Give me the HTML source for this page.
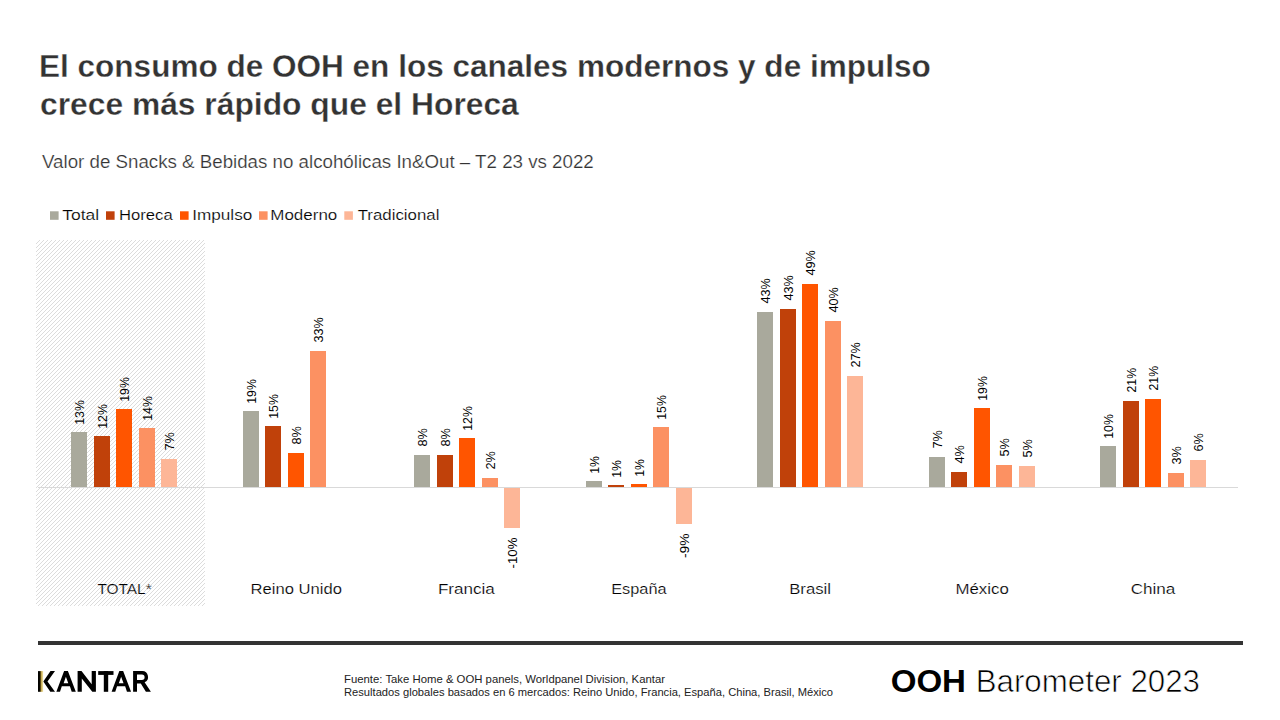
<!DOCTYPE html>
<html><head><meta charset="utf-8"><title>OOH Barometer 2023</title>
<style>
html,body{margin:0;padding:0;background:#fff;}
body{width:1280px;height:720px;overflow:hidden;position:relative;font-family:"Liberation Sans", sans-serif;}
svg{position:absolute;left:0;top:0;}
svg text{font-family:"Liberation Sans", sans-serif;}
</style></head><body>
<svg width="1280" height="720" viewBox="0 0 1280 720">
<defs>
<pattern id="hatch" x="0" y="0" width="4" height="4" patternUnits="userSpaceOnUse">
<rect x="3" y="0" width="1" height="1" fill="#dcdcdc"/>
<rect x="2" y="1" width="1" height="1" fill="#dcdcdc"/>
<rect x="1" y="2" width="1" height="1" fill="#dcdcdc"/>
<rect x="0" y="3" width="1" height="1" fill="#dcdcdc"/>
</pattern>
<linearGradient id="kgold" x1="0" y1="0" x2="1" y2="0">
<stop offset="0" stop-color="#000"/>
<stop offset="0.42" stop-color="#0a0800"/>
<stop offset="0.52" stop-color="#7a6420"/>
<stop offset="0.7" stop-color="#cdb45e"/>
<stop offset="1" stop-color="#efe0a2"/>
</linearGradient>
</defs>

<rect x="36" y="240" width="169" height="366" fill="url(#hatch)" shape-rendering="crispEdges"/>
<rect x="38" y="487" width="1200" height="1" fill="#d9d9d9" shape-rendering="crispEdges"/>
<rect x="71" y="432" width="16" height="55" fill="#a9a99c" shape-rendering="crispEdges"/>
<rect x="94" y="436" width="16" height="51" fill="#c0410a" shape-rendering="crispEdges"/>
<rect x="116" y="409" width="16" height="78" fill="#ff5500" shape-rendering="crispEdges"/>
<rect x="139" y="428" width="16" height="59" fill="#fc9162" shape-rendering="crispEdges"/>
<rect x="161" y="459" width="16" height="28" fill="#fdb697" shape-rendering="crispEdges"/>
<rect x="243" y="411" width="16" height="76" fill="#a9a99c" shape-rendering="crispEdges"/>
<rect x="265" y="426" width="16" height="61" fill="#c0410a" shape-rendering="crispEdges"/>
<rect x="288" y="453" width="16" height="34" fill="#ff5500" shape-rendering="crispEdges"/>
<rect x="310" y="351" width="16" height="136" fill="#fc9162" shape-rendering="crispEdges"/>
<rect x="414" y="455" width="16" height="32" fill="#a9a99c" shape-rendering="crispEdges"/>
<rect x="437" y="455" width="16" height="32" fill="#c0410a" shape-rendering="crispEdges"/>
<rect x="459" y="438" width="16" height="49" fill="#ff5500" shape-rendering="crispEdges"/>
<rect x="482" y="478" width="16" height="9" fill="#fc9162" shape-rendering="crispEdges"/>
<rect x="504" y="488" width="16" height="40" fill="#fdb697" shape-rendering="crispEdges"/>
<rect x="586" y="481" width="16" height="6" fill="#a9a99c" shape-rendering="crispEdges"/>
<rect x="608" y="485" width="16" height="2" fill="#c0410a" shape-rendering="crispEdges"/>
<rect x="631" y="484" width="16" height="3" fill="#ff5500" shape-rendering="crispEdges"/>
<rect x="653" y="427" width="16" height="60" fill="#fc9162" shape-rendering="crispEdges"/>
<rect x="676" y="488" width="16" height="36" fill="#fdb697" shape-rendering="crispEdges"/>
<rect x="757" y="312" width="16" height="175" fill="#a9a99c" shape-rendering="crispEdges"/>
<rect x="780" y="309" width="16" height="178" fill="#c0410a" shape-rendering="crispEdges"/>
<rect x="802" y="284" width="16" height="203" fill="#ff5500" shape-rendering="crispEdges"/>
<rect x="825" y="321" width="16" height="166" fill="#fc9162" shape-rendering="crispEdges"/>
<rect x="847" y="376" width="16" height="111" fill="#fdb697" shape-rendering="crispEdges"/>
<rect x="929" y="457" width="16" height="30" fill="#a9a99c" shape-rendering="crispEdges"/>
<rect x="951" y="472" width="16" height="15" fill="#c0410a" shape-rendering="crispEdges"/>
<rect x="974" y="408" width="16" height="79" fill="#ff5500" shape-rendering="crispEdges"/>
<rect x="996" y="465" width="16" height="22" fill="#fc9162" shape-rendering="crispEdges"/>
<rect x="1019" y="466" width="16" height="21" fill="#fdb697" shape-rendering="crispEdges"/>
<rect x="1100" y="446" width="16" height="41" fill="#a9a99c" shape-rendering="crispEdges"/>
<rect x="1123" y="401" width="16" height="86" fill="#c0410a" shape-rendering="crispEdges"/>
<rect x="1145" y="399" width="16" height="88" fill="#ff5500" shape-rendering="crispEdges"/>
<rect x="1168" y="473" width="16" height="14" fill="#fc9162" shape-rendering="crispEdges"/>
<rect x="1190" y="460" width="16" height="27" fill="#fdb697" shape-rendering="crispEdges"/>
<text x="84.24" y="424.8" transform="rotate(-90 84.24 424.8)" font-size="13.5" text-anchor="start" fill="#000" textLength="24.65" lengthAdjust="spacingAndGlyphs" >13%</text>
<text x="107.24" y="428.8" transform="rotate(-90 107.24 428.8)" font-size="13.5" text-anchor="start" fill="#000" textLength="24.65" lengthAdjust="spacingAndGlyphs" >12%</text>
<text x="129.24" y="401.8" transform="rotate(-90 129.24 401.8)" font-size="13.5" text-anchor="start" fill="#000" textLength="24.65" lengthAdjust="spacingAndGlyphs" >19%</text>
<text x="152.24" y="420.8" transform="rotate(-90 152.24 420.8)" font-size="13.5" text-anchor="start" fill="#000" textLength="24.65" lengthAdjust="spacingAndGlyphs" >14%</text>
<text x="174.24" y="450.5" transform="rotate(-90 174.24 450.5)" font-size="13.5" text-anchor="start" fill="#000" textLength="18.35" lengthAdjust="spacingAndGlyphs" >7%</text>
<text x="256.24" y="403.8" transform="rotate(-90 256.24 403.8)" font-size="13.5" text-anchor="start" fill="#000" textLength="24.65" lengthAdjust="spacingAndGlyphs" >19%</text>
<text x="278.24" y="418.8" transform="rotate(-90 278.24 418.8)" font-size="13.5" text-anchor="start" fill="#000" textLength="24.65" lengthAdjust="spacingAndGlyphs" >15%</text>
<text x="301.24" y="444.5" transform="rotate(-90 301.24 444.5)" font-size="13.5" text-anchor="start" fill="#000" textLength="18.35" lengthAdjust="spacingAndGlyphs" >8%</text>
<text x="323.24" y="342.5" transform="rotate(-90 323.24 342.5)" font-size="13.5" text-anchor="start" fill="#000" textLength="25.30" lengthAdjust="spacingAndGlyphs" >33%</text>
<text x="427.24" y="446.5" transform="rotate(-90 427.24 446.5)" font-size="13.5" text-anchor="start" fill="#000" textLength="18.35" lengthAdjust="spacingAndGlyphs" >8%</text>
<text x="450.24" y="446.5" transform="rotate(-90 450.24 446.5)" font-size="13.5" text-anchor="start" fill="#000" textLength="18.35" lengthAdjust="spacingAndGlyphs" >8%</text>
<text x="472.24" y="430.8" transform="rotate(-90 472.24 430.8)" font-size="13.5" text-anchor="start" fill="#000" textLength="24.65" lengthAdjust="spacingAndGlyphs" >12%</text>
<text x="495.24" y="469.5" transform="rotate(-90 495.24 469.5)" font-size="13.5" text-anchor="start" fill="#000" textLength="18.35" lengthAdjust="spacingAndGlyphs" >2%</text>
<text x="517.24" y="537.5" transform="rotate(-90 517.24 537.5)" font-size="13.5" text-anchor="end" fill="#000" textLength="30.90" lengthAdjust="spacingAndGlyphs" >-10%</text>
<text x="599.24" y="473.8" transform="rotate(-90 599.24 473.8)" font-size="13.5" text-anchor="start" fill="#000" textLength="17.70" lengthAdjust="spacingAndGlyphs" >1%</text>
<text x="621.24" y="477.8" transform="rotate(-90 621.24 477.8)" font-size="13.5" text-anchor="start" fill="#000" textLength="17.70" lengthAdjust="spacingAndGlyphs" >1%</text>
<text x="644.24" y="476.8" transform="rotate(-90 644.24 476.8)" font-size="13.5" text-anchor="start" fill="#000" textLength="17.70" lengthAdjust="spacingAndGlyphs" >1%</text>
<text x="666.24" y="419.8" transform="rotate(-90 666.24 419.8)" font-size="13.5" text-anchor="start" fill="#000" textLength="24.65" lengthAdjust="spacingAndGlyphs" >15%</text>
<text x="689.24" y="533.5" transform="rotate(-90 689.24 533.5)" font-size="13.5" text-anchor="end" fill="#000" textLength="24.60" lengthAdjust="spacingAndGlyphs" >-9%</text>
<text x="770.24" y="303.5" transform="rotate(-90 770.24 303.5)" font-size="13.5" text-anchor="start" fill="#000" textLength="25.30" lengthAdjust="spacingAndGlyphs" >43%</text>
<text x="793.24" y="300.5" transform="rotate(-90 793.24 300.5)" font-size="13.5" text-anchor="start" fill="#000" textLength="25.30" lengthAdjust="spacingAndGlyphs" >43%</text>
<text x="815.24" y="275.5" transform="rotate(-90 815.24 275.5)" font-size="13.5" text-anchor="start" fill="#000" textLength="25.30" lengthAdjust="spacingAndGlyphs" >49%</text>
<text x="838.24" y="312.5" transform="rotate(-90 838.24 312.5)" font-size="13.5" text-anchor="start" fill="#000" textLength="25.30" lengthAdjust="spacingAndGlyphs" >40%</text>
<text x="860.24" y="367.5" transform="rotate(-90 860.24 367.5)" font-size="13.5" text-anchor="start" fill="#000" textLength="25.30" lengthAdjust="spacingAndGlyphs" >27%</text>
<text x="942.24" y="448.5" transform="rotate(-90 942.24 448.5)" font-size="13.5" text-anchor="start" fill="#000" textLength="18.35" lengthAdjust="spacingAndGlyphs" >7%</text>
<text x="964.24" y="463.5" transform="rotate(-90 964.24 463.5)" font-size="13.5" text-anchor="start" fill="#000" textLength="18.35" lengthAdjust="spacingAndGlyphs" >4%</text>
<text x="987.24" y="400.8" transform="rotate(-90 987.24 400.8)" font-size="13.5" text-anchor="start" fill="#000" textLength="24.65" lengthAdjust="spacingAndGlyphs" >19%</text>
<text x="1009.24" y="456.5" transform="rotate(-90 1009.24 456.5)" font-size="13.5" text-anchor="start" fill="#000" textLength="18.35" lengthAdjust="spacingAndGlyphs" >5%</text>
<text x="1032.24" y="457.5" transform="rotate(-90 1032.24 457.5)" font-size="13.5" text-anchor="start" fill="#000" textLength="18.35" lengthAdjust="spacingAndGlyphs" >5%</text>
<text x="1113.24" y="438.8" transform="rotate(-90 1113.24 438.8)" font-size="13.5" text-anchor="start" fill="#000" textLength="24.65" lengthAdjust="spacingAndGlyphs" >10%</text>
<text x="1136.24" y="392.5" transform="rotate(-90 1136.24 392.5)" font-size="13.5" text-anchor="start" fill="#000" textLength="24.65" lengthAdjust="spacingAndGlyphs" >21%</text>
<text x="1158.24" y="390.5" transform="rotate(-90 1158.24 390.5)" font-size="13.5" text-anchor="start" fill="#000" textLength="24.65" lengthAdjust="spacingAndGlyphs" >21%</text>
<text x="1181.24" y="464.5" transform="rotate(-90 1181.24 464.5)" font-size="13.5" text-anchor="start" fill="#000" textLength="18.35" lengthAdjust="spacingAndGlyphs" >3%</text>
<text x="1203.24" y="451.5" transform="rotate(-90 1203.24 451.5)" font-size="13.5" text-anchor="start" fill="#000" textLength="18.35" lengthAdjust="spacingAndGlyphs" >6%</text>
<rect x="50" y="211.3" width="8.6" height="8.5" fill="#a9a99c"/>
<rect x="106" y="211.3" width="8.6" height="8.5" fill="#c0410a"/>
<rect x="180" y="211.3" width="8.6" height="8.5" fill="#ff5500"/>
<rect x="259" y="211.3" width="8.6" height="8.5" fill="#fc9162"/>
<rect x="344.3" y="211.3" width="8.6" height="8.5" fill="#fdb697"/>
<g fill="#000">
<path d="M43.3 681.4 L50.5 671.1 L55 671.1 L47.5 681.4 L55 691.8 L50.3 691.8 Z"/>
<path fill-rule="evenodd" d="M56.35 691.8 L64.1 671.1 L67.9 671.1 L75.8 691.8 L71.7 691.8 L69.9 686.2 L61.8 686.2 L60 691.8 Z M63.6 683.2 L65.9 676.8 L68.3 683.2 Z"/>
<path d="M77.6 691.8 V671.1 H81.5 L91.7 684.2 V671.1 H95.9 V691.8 H92.3 L81.8 678.5 V691.8 Z"/>
<rect x="98.2" y="671.1" width="15.3" height="3.8"/>
<rect x="103.8" y="671.1" width="4.4" height="20.7"/>
<path fill-rule="evenodd" transform="translate(55.25 0)" d="M56.35 691.8 L64.1 671.1 L67.9 671.1 L75.8 691.8 L71.7 691.8 L69.9 686.2 L61.8 686.2 L60 691.8 Z M63.6 683.2 L65.9 676.8 L68.3 683.2 Z"/>
<path fill-rule="evenodd" d="M133.1 691.8 V671.1 H142.3 A5.75 5.85 0 0 1 144.6 682.3 L150.9 691.8 H145.9 L140.8 683.4 H137 V691.8 Z M137 674.5 H141.9 A2.7 2.7 0 0 1 141.9 679.9 H137 Z"/>
</g>
<rect x="38" y="671.1" width="5.1" height="20.7" fill="url(#kgold)"/>
<rect x="38" y="641" width="1205" height="4" fill="#333" shape-rendering="crispEdges"/>
<text x="39.00" y="76.5" font-size="31" font-weight="bold" fill="#333" textLength="891.80" lengthAdjust="spacingAndGlyphs" stroke="#fff" stroke-width="0.3">El consumo de OOH en los canales modernos y de impulso</text>
<text x="40.00" y="115.4" font-size="31" font-weight="bold" fill="#333" textLength="478.80" lengthAdjust="spacingAndGlyphs" stroke="#fff" stroke-width="0.3">crece más rápido que el Horeca</text>
<text x="42.00" y="167.9" font-size="17.5" font-weight="normal" fill="#333" textLength="551.70" lengthAdjust="spacingAndGlyphs" stroke="#fff" stroke-width="0.2">Valor de Snacks &amp; Bebidas no alcohólicas In&amp;Out – T2 23 vs 2022</text>
<text x="62.30" y="220" font-size="15.5" font-weight="normal" fill="#000" textLength="36.95" lengthAdjust="spacingAndGlyphs" stroke="#fff" stroke-width="0.2">Total</text>
<text x="119.00" y="220" font-size="15.5" font-weight="normal" fill="#000" textLength="53.70" lengthAdjust="spacingAndGlyphs" stroke="#fff" stroke-width="0.2">Horeca</text>
<text x="192.25" y="220" font-size="15.5" font-weight="normal" fill="#000" textLength="60.05" lengthAdjust="spacingAndGlyphs" stroke="#fff" stroke-width="0.2">Impulso</text>
<text x="270.30" y="220" font-size="15.5" font-weight="normal" fill="#000" textLength="67.00" lengthAdjust="spacingAndGlyphs" stroke="#fff" stroke-width="0.2">Moderno</text>
<text x="357.70" y="220" font-size="15.5" font-weight="normal" fill="#000" textLength="81.80" lengthAdjust="spacingAndGlyphs" stroke="#fff" stroke-width="0.2">Tradicional</text>
<text x="97.40" y="594.3" font-size="15" font-weight="normal" fill="#000" textLength="54.30" lengthAdjust="spacingAndGlyphs" stroke="#fff" stroke-width="0.2">TOTAL*</text>
<text x="250.60" y="594.3" font-size="15" font-weight="normal" fill="#000" textLength="91.40" lengthAdjust="spacingAndGlyphs" stroke="#fff" stroke-width="0.2">Reino Unido</text>
<text x="437.90" y="594.3" font-size="15" font-weight="normal" fill="#000" textLength="56.90" lengthAdjust="spacingAndGlyphs" stroke="#fff" stroke-width="0.2">Francia</text>
<text x="611.20" y="594.3" font-size="15" font-weight="normal" fill="#000" textLength="55.40" lengthAdjust="spacingAndGlyphs" stroke="#fff" stroke-width="0.2">España</text>
<text x="789.20" y="594.3" font-size="15" font-weight="normal" fill="#000" textLength="41.80" lengthAdjust="spacingAndGlyphs" stroke="#fff" stroke-width="0.2">Brasil</text>
<text x="955.50" y="594.3" font-size="15" font-weight="normal" fill="#000" textLength="53.30" lengthAdjust="spacingAndGlyphs" stroke="#fff" stroke-width="0.2">México</text>
<text x="1130.70" y="594.3" font-size="15" font-weight="normal" fill="#000" textLength="44.70" lengthAdjust="spacingAndGlyphs" stroke="#fff" stroke-width="0.2">China</text>
<text x="344.00" y="683" font-size="10.6" font-weight="normal" fill="#222" textLength="321.00" lengthAdjust="spacingAndGlyphs" >Fuente: Take Home &amp; OOH panels, Worldpanel Division, Kantar</text>
<text x="344.00" y="696.3" font-size="10.6" font-weight="normal" fill="#222" textLength="489.00" lengthAdjust="spacingAndGlyphs" >Resultados globales basados en 6 mercados: Reino Unido, Francia, España, China, Brasil, México</text>
<text x="890.70" y="692" font-size="32" font-weight="bold" fill="#000" textLength="75.30" lengthAdjust="spacingAndGlyphs" >OOH</text>
<text x="975.70" y="692" font-size="32" font-weight="normal" fill="#000" textLength="224.30" lengthAdjust="spacingAndGlyphs" stroke="#fff" stroke-width="0.7">Barometer 2023</text>
</svg>
</body></html>
